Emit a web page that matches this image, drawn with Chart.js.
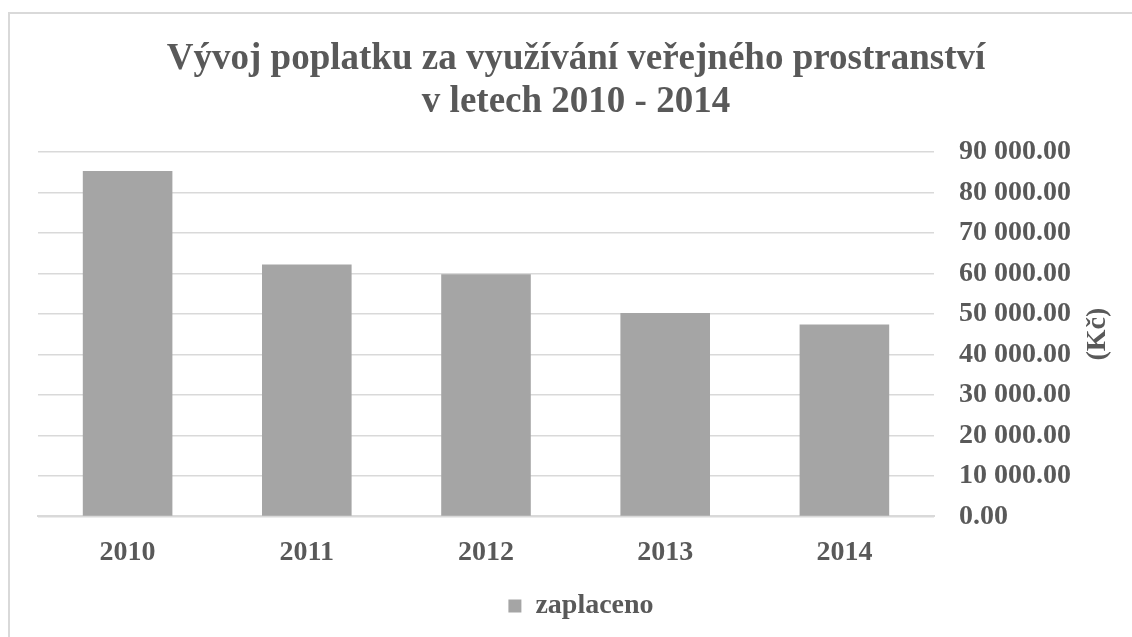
<!DOCTYPE html>
<html>
<head>
<meta charset="utf-8">
<script src="https://cdn.jsdelivr.net/npm/chart.js@4.4.1/dist/chart.umd.min.js"></script>
<style>
  html, body { margin: 0; padding: 0; background: #fff; overflow: hidden; }
  #frame { position: absolute; left: 8px; top: 12px; width: 1300px; height: 800px; border-left: 2px solid #d9d9d9; border-top: 2px solid #d9d9d9; }
  #wrap { position: absolute; left: 0; top: 0; width: 1132px; height: 637px; }
</style>
</head>
<body>
<div id="frame"></div>
<div id="wrap"><canvas id="chart"></canvas></div>
<script>
// Data
const years = ["2010", "2011", "2012", "2013", "2014"]
const paid = [85300, 62200, 59800, 50200, 47400]
const seriesName = "zaplaceno"
const titleLines = ["Vývoj poplatku za využívání veřejného prostranství", "v letech 2010 - 2014"]
const axisTitle = "(Kč)"

const textColor = "#595959"
const serif = "'Liberation Serif', 'Times New Roman', serif"

// thousands separated by space, two decimals
const formatKc = (v) => {
  const parts = Number(v).toFixed(2).split(".")
  return parts[0].replace(/\B(?=(\d{3})+(?!\d))/g, " ") + "." + parts[1]
}

// right axis title, reading bottom to top
const axisTitlePlugin = {
  id: "axisTitle",
  afterDraw(chart) {
    const { ctx, chartArea } = chart
    ctx.save()
    ctx.font = "bold 28px " + serif
    ctx.fillStyle = textColor
    ctx.textAlign = "center"
    ctx.textBaseline = "middle"
    ctx.translate(1098, (chartArea.top + chartArea.bottom) / 2)
    ctx.rotate(-Math.PI / 2)
    ctx.fillText(axisTitle, 0, 0)
    ctx.restore()
  },
}

// nudge title and legend to the right, like the original
const nudgePlugin = {
  id: "nudge",
  afterLayout(chart) {
    if (chart.titleBlock) {
      chart.titleBlock.left += 9
      chart.titleBlock.right += 9
    }
    if (chart.legend) {
      chart.legend.left += 14
      chart.legend.right += 14
    }
  },
}

new Chart(document.getElementById("chart"), {
  type: "bar",
  data: {
    labels: years,
    datasets: [
      {
        label: seriesName,
        data: paid,
        backgroundColor: "#a5a5a5",
        borderWidth: 0,
        barPercentage: 1,
        categoryPercentage: 0.5,
      },
    ],
  },
  options: {
    responsive: true,
    maintainAspectRatio: false,
    animation: false,
    layout: {
      padding: { left: 38, right: 36, top: 38, bottom: 7 },
    },
    plugins: {
      title: {
        display: true,
        text: titleLines,
        color: textColor,
        font: { family: serif, size: 37, weight: "bold", lineHeight: 1.16 },
        padding: { top: 0, bottom: 28 },
      },
      legend: {
        position: "bottom",
        labels: {
          color: textColor,
          font: { family: serif, size: 28, weight: "bold" },
          boxWidth: 13,
          boxHeight: 13,
          padding: 10,
        },
      },
      tooltip: { enabled: false },
    },
    scales: {
      x: {
        grid: { display: false },
        border: { display: true, color: "#d9d9d9", width: 2 },
        ticks: {
          color: textColor,
          font: { family: serif, size: 28, weight: "bold" },
          padding: 12,
        },
      },
      y: {
        position: "right",
        min: 0,
        max: 90000,
        grid: { color: "#d9d9d9", lineWidth: 1.5, drawTicks: false },
        border: { display: false },
        ticks: {
          stepSize: 10000,
          color: textColor,
          font: { family: serif, size: 28, weight: "bold" },
          padding: 25,
          callback: (v) => formatKc(v),
        },
      },
    },
  },
  plugins: [axisTitlePlugin, nudgePlugin],
})
</script>
</body>
</html>
